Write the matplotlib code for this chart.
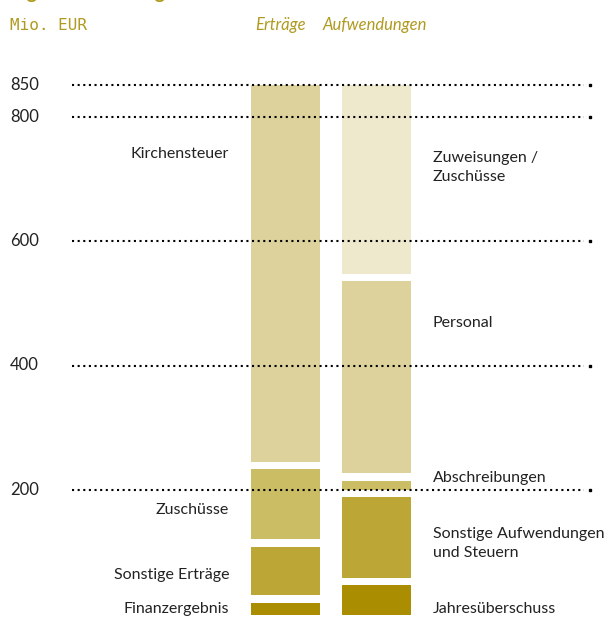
import matplotlib.pyplot as plt

# Werte in Mio. EUR (von unten nach oben gestapelt)
ertraege_labels = ['Finanzergebnis', 'Sonstige Erträge', 'Zuschüsse', 'Kirchensteuer']
ertraege_values = [19, 90, 125, 616]
aufw_labels = ['Jahresüberschuss', 'Sonstige Aufwendungen\nund Steuern', 'Abschreibungen',
               'Personal', 'Zuweisungen /\nZuschüsse']
aufw_values = [47, 141, 27, 320, 315]
ticks = [200, 400, 600, 800, 850]

ertraege_colors = ['#aa8d00', '#bca736', '#cbbd64', '#ddd29b']
aufw_colors = ['#aa8d00', '#bca736', '#cbbd64', '#ddd29b', '#eee8cc']
# Position der Beschriftungen (Grundlinie, in Mio. EUR)
ertraege_label_y = [2, 57, 161, 733]
aufw_label_y = [2, 93, 213, 462, 697]

gold = '#b09a20'
txt = '#222222'
font = 'Lato'
gap = 11.7
w = 0.76

fig = plt.figure(figsize=(6.09, 6.32), dpi=100)
ax = fig.add_axes([0, 0, 1, 1])
ax.set_xlim(-285.5 / 91, (609 - 285.5) / 91)
ax.set_ylim((614.5 - 632) / 0.6225, 614.5 / 0.6225)
ax.axis('off')


def stack(x, values, colors):
    cum = 0
    for i, (v, c) in enumerate(zip(values, colors)):
        g = gap if i > 0 else 0
        ax.bar(x, v - g, bottom=cum + g, width=w, color=c, zorder=2)
        cum += v


stack(0, ertraege_values, ertraege_colors)
stack(1, aufw_values, aufw_colors)

# gepunktete Hilfslinien
x0, x1, xend = (72 - 285.5) / 91, (584 - 285.5) / 91, (590 - 285.5) / 91
for t in ticks:
    ax.hlines(t, x0, x1, color='black', lw=1.5, linestyles=(0, (1, 1.7)), zorder=3)
    ax.plot(xend, t, 's', color='black', ms=2, zorder=3)
    ax.text(-275.5 / 91, t, str(t), ha='left', va='center', fontsize=12,
            family=font, color=txt)

for lab, y in zip(ertraege_labels, ertraege_label_y):
    ax.text(-w / 2 - 0.24, y, lab, ha='right', va='baseline', fontsize=11.5,
            family=font, color=txt, linespacing=1.4)
for lab, y in zip(aufw_labels, aufw_label_y):
    ax.text(1 + w / 2 + 0.24, y, lab, ha='left', va='baseline', fontsize=11.5,
            family=font, color=txt, linespacing=1.4)

# Kopfzeile
fig.text(10 / 609, 1 - 30 / 632, 'Mio. EUR', ha='left', va='baseline', fontsize=11.5,
         family='DejaVu Sans Mono', color=gold)
fig.text(255 / 609, 1 - 30 / 632, 'Erträge', ha='left', va='baseline', fontsize=12,
         family=font, style='italic', color=gold)
fig.text(323 / 609, 1 - 30 / 632, 'Aufwendungen', ha='left', va='baseline', fontsize=12,
         family=font, style='italic', color=gold)
fig.text(8 / 609, 1 + 1 / 632, 'Ergebnisrechnung', ha='left', va='baseline', fontsize=14,
         family=font, weight='bold', color=gold)

fig.savefig('out.png', dpi=100)
